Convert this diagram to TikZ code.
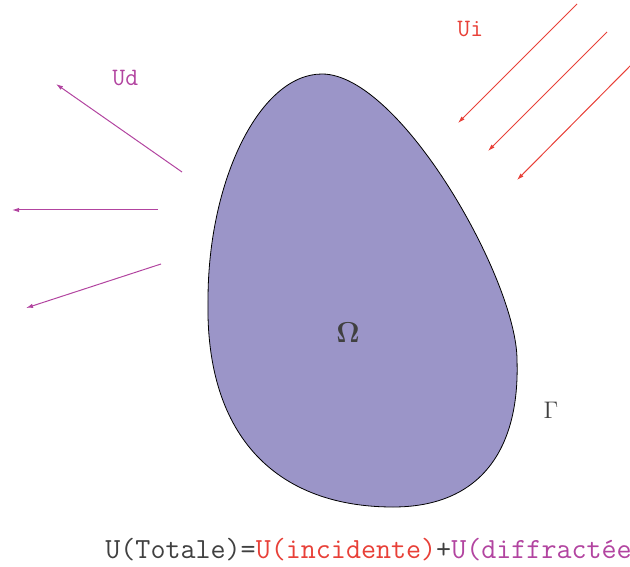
\documentclass[tikz,border=0pt]{standalone}
\usepackage[no-math]{fontspec}
\usetikzlibrary{arrows.meta}
\definecolor{domfill}{RGB}{155,149,200}
\definecolor{incred}{RGB}{232,64,56}
\definecolor{difmag}{RGB}{178,68,160}
\definecolor{txtgray}{RGB}{64,64,64}
\tikzset{
  >={Latex[length=3.5pt,width=2.2pt]},
  % ondes
  wave inc/.style={->,incred,line width=0.5pt},
  wave dif/.style={->,difmag,line width=0.5pt},
  % textes
  lbl/.style={font=\ttfamily\fontsize{12.5}{14}\selectfont,inner sep=0pt,anchor=base west},
  sym/.style={font=\fontsize{15}{17}\selectfont,txtgray,inner sep=0pt}
}
\begin{document}
\begin{tikzpicture}[x=0.5pt,y=-0.5pt]
        \useasboundingbox (0,0) rectangle (630,566);
        % domaine
        \filldraw[fill=domfill,draw=black,line width=0.4pt]
          (322,74) .. controls (400,74) and (517,280) .. (517,360)
          .. controls (520,450) and (480,507) .. (393,507)
          .. controls (280,507) and (205,440) .. (208,300)
          .. controls (208,180) and (260,74) .. (322,74) -- cycle;
        \node[sym,font=\fontsize{15}{17}\selectfont\boldmath] (omega) at (348,333) {$\Omega$};
        \node[sym,font=\fontsize{12}{14}\selectfont] (gamma) at (551,410) {$\Gamma$};
        % onde incidente
        \coordinate (i1a) at (577,4);   \coordinate (i1b) at (458,123);
        \coordinate (i2a) at (607,32);  \coordinate (i2b) at (488,151);
        \coordinate (i3a) at (632,64);  \coordinate (i3b) at (517,180);
        \foreach \k in {1,2,3}
          \draw[wave inc] (i\k a) -- (i\k b);
        \node[lbl,incred] (ui) at (457,37) {Ui};
        % onde diffractee
        \coordinate (d1a) at (182,172); \coordinate (d1b) at (56,84);
        \coordinate (d2a) at (158,210); \coordinate (d2b) at (12,210);
        \coordinate (d3a) at (161,264); \coordinate (d3b) at (26,308);
        \foreach \k in {1,2,3}
          \draw[wave dif] (d\k a) -- (d\k b);
        \node[lbl,difmag] (ud) at (112,86) {Ud};
        % relation
        \node[lbl,txtgray,font=\ttfamily\fontsize{14.6}{17}\selectfont] (rel) at (105,558)
          {U(Totale)=\textcolor{incred}{U(incidente)}+\textcolor{difmag}{U(diffractée}};
      \end{tikzpicture}
\end{document}
